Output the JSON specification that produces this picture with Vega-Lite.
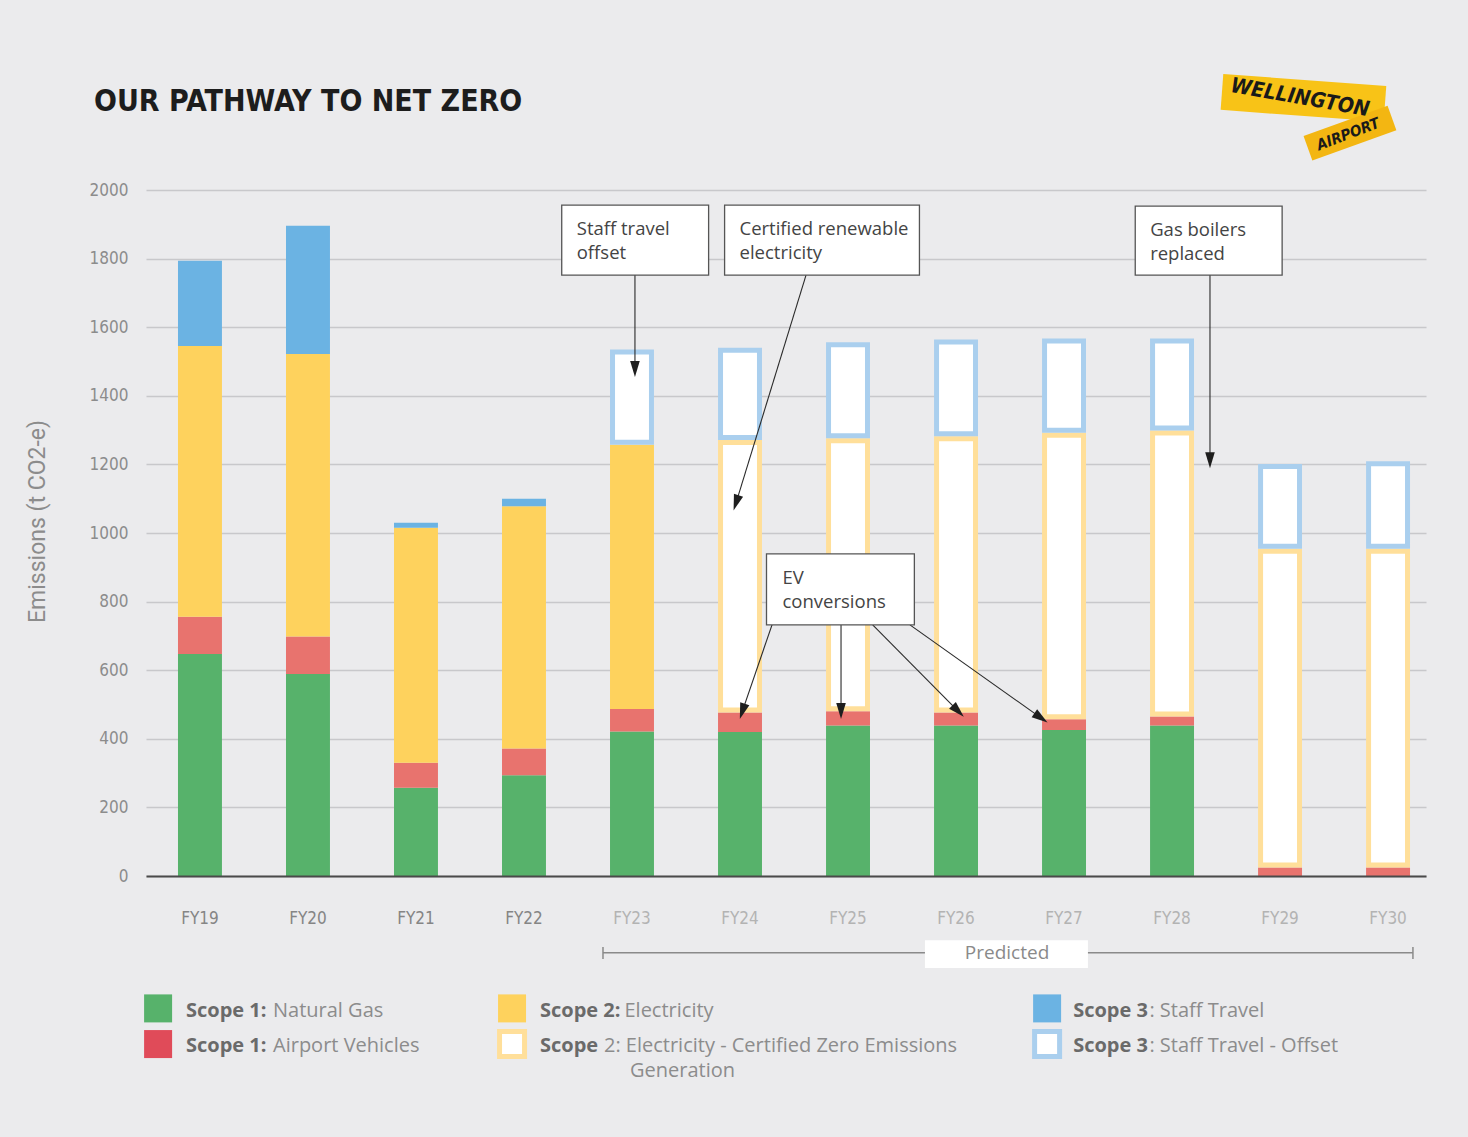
{
  "$schema": "https://vega.github.io/schema/vega-lite/v6.json",
  "width": 1280,
  "height": 686,
  "autosize": {"type": "none"},
  "padding": {"left": 146, "top": 190, "right": 42, "bottom": 261},
  "background": "#ebebed",
  "config": {
    "view": {"stroke": null},
    "font": "Open Sans",
    "axisY": {
      "domain": false, "ticks": false, "labelPadding": 18,
      "labelFont": "'DejaVu Sans Condensed', Roboto, sans-serif", "labelFontSize": 17, "labelColor": "#8c8c8c",
      "gridColor": "#c8c8cb", "gridWidth": 1.5,
      "titleFont": "Roboto", "titleFontSize": 23, "titleFontWeight": "normal", "titleColor": "#8c8c8c",
      "titleAngle": -90, "titleX": -109, "titleY": 331, "titleAlign": "center", "titleBaseline": "middle"
    }
  },
  "title": {
    "text": "OUR PATHWAY TO NET ZERO",
    "anchor": "start",
    "frame": "group",
    "font": "'DejaVu Sans Condensed', Roboto, sans-serif",
    "fontWeight": "bold",
    "fontSize": 30,
    "color": "#1d1d1d",
    "dx": -52,
    "offset": -43
  },
  "datasets": {
    "emissions": [
      {"year": "FY19", "category": "Scope 1: Natural Gas", "value": 647},
      {"year": "FY19", "category": "Scope 1: Airport Vehicles", "value": 109},
      {"year": "FY19", "category": "Scope 2: Electricity", "value": 789},
      {"year": "FY19", "category": "Scope 3: Staff Travel", "value": 249},
      {"year": "FY20", "category": "Scope 1: Natural Gas", "value": 589},
      {"year": "FY20", "category": "Scope 1: Airport Vehicles", "value": 109},
      {"year": "FY20", "category": "Scope 2: Electricity", "value": 824},
      {"year": "FY20", "category": "Scope 3: Staff Travel", "value": 374},
      {"year": "FY21", "category": "Scope 1: Natural Gas", "value": 257},
      {"year": "FY21", "category": "Scope 1: Airport Vehicles", "value": 73},
      {"year": "FY21", "category": "Scope 2: Electricity", "value": 685},
      {"year": "FY21", "category": "Scope 3: Staff Travel", "value": 15},
      {"year": "FY22", "category": "Scope 1: Natural Gas", "value": 294},
      {"year": "FY22", "category": "Scope 1: Airport Vehicles", "value": 78},
      {"year": "FY22", "category": "Scope 2: Electricity", "value": 706},
      {"year": "FY22", "category": "Scope 3: Staff Travel", "value": 22},
      {"year": "FY23", "category": "Scope 1: Natural Gas", "value": 421},
      {"year": "FY23", "category": "Scope 1: Airport Vehicles", "value": 66},
      {"year": "FY23", "category": "Scope 2: Electricity", "value": 770},
      {"year": "FY23", "category": "Scope 3: Staff Travel - Offset", "value": 278},
      {"year": "FY24", "category": "Scope 1: Natural Gas", "value": 420},
      {"year": "FY24", "category": "Scope 1: Airport Vehicles", "value": 57},
      {"year": "FY24", "category": "Scope 2: Electricity - Certified Zero Emissions Generation", "value": 794},
      {"year": "FY24", "category": "Scope 3: Staff Travel - Offset", "value": 269},
      {"year": "FY25", "category": "Scope 1: Natural Gas", "value": 439},
      {"year": "FY25", "category": "Scope 1: Airport Vehicles", "value": 41},
      {"year": "FY25", "category": "Scope 2: Electricity - Certified Zero Emissions Generation", "value": 796},
      {"year": "FY25", "category": "Scope 3: Staff Travel - Offset", "value": 280},
      {"year": "FY26", "category": "Scope 1: Natural Gas", "value": 439},
      {"year": "FY26", "category": "Scope 1: Airport Vehicles", "value": 38},
      {"year": "FY26", "category": "Scope 2: Electricity - Certified Zero Emissions Generation", "value": 805},
      {"year": "FY26", "category": "Scope 3: Staff Travel - Offset", "value": 282},
      {"year": "FY27", "category": "Scope 1: Natural Gas", "value": 426},
      {"year": "FY27", "category": "Scope 1: Airport Vehicles", "value": 31},
      {"year": "FY27", "category": "Scope 2: Electricity - Certified Zero Emissions Generation", "value": 835},
      {"year": "FY27", "category": "Scope 3: Staff Travel - Offset", "value": 275},
      {"year": "FY28", "category": "Scope 1: Natural Gas", "value": 439},
      {"year": "FY28", "category": "Scope 1: Airport Vehicles", "value": 26},
      {"year": "FY28", "category": "Scope 2: Electricity - Certified Zero Emissions Generation", "value": 834},
      {"year": "FY28", "category": "Scope 3: Staff Travel - Offset", "value": 268},
      {"year": "FY29", "category": "Scope 1: Airport Vehicles", "value": 25},
      {"year": "FY29", "category": "Scope 2: Electricity - Certified Zero Emissions Generation", "value": 929},
      {"year": "FY29", "category": "Scope 3: Staff Travel - Offset", "value": 247},
      {"year": "FY30", "category": "Scope 1: Airport Vehicles", "value": 25},
      {"year": "FY30", "category": "Scope 2: Electricity - Certified Zero Emissions Generation", "value": 929},
      {"year": "FY30", "category": "Scope 3: Staff Travel - Offset", "value": 255}
    ],
    "arrows": [
      {"id": "staff", "xs": 4.027, "ys": 1752, "xe": 4.027, "ye": 1478},
      {"id": "cert", "xs": 5.611, "ys": 1752, "xe": 4.963, "ye": 1088},
      {"id": "gas", "xs": 9.351, "ys": 1752, "xe": 9.351, "ye": 1212},
      {"id": "ev1", "xs": 5.296, "ys": 732, "xe": 5.021, "ye": 480},
      {"id": "ev2", "xs": 5.935, "ys": 732, "xe": 5.935, "ye": 481},
      {"id": "ev3", "xs": 6.228, "ys": 732, "xe": 7.019, "ye": 481},
      {"id": "ev4", "xs": 6.573, "ys": 732, "xe": 7.786, "ye": 461}
    ],
    "notes": [
      {"note": "Staff travel\noffset", "bx0": 3.349, "bx1": 4.709, "by0": 1956, "by1": 1752, "tx": 3.488, "ty": 1869},
      {"note": "Certified renewable\nelectricity", "bx0": 4.857, "bx1": 6.661, "by0": 1956, "by1": 1752, "tx": 4.995, "ty": 1869},
      {"note": "Gas boilers\nreplaced", "bx0": 8.659, "bx1": 10.019, "by0": 1953, "by1": 1752, "tx": 8.797, "ty": 1866},
      {"note": "EV\nconversions", "bx0": 5.245, "bx1": 6.614, "by0": 939, "by1": 732, "tx": 5.393, "ty": 851}
    ],
    "predicted": [
      {"label": "Predicted", "from": 3.731, "to": 11.23, "at": -224, "tickTop": -207, "tickBottom": -242, "boxFrom": 6.712, "boxTo": 8.221, "boxTop": -187, "boxBottom": -268, "mid": 7.472}
    ],
    "legendSwatches": [
      {"category": "Scope 1: Natural Gas", "lx": -0.388, "ly": -386},
      {"category": "Scope 1: Airport Vehicles", "lx": -0.388, "ly": -490},
      {"category": "Scope 2: Electricity", "lx": 2.889, "ly": -386},
      {"category": "Scope 2: Electricity - Certified Zero Emissions Generation", "lx": 2.889, "ly": -490},
      {"category": "Scope 3: Staff Travel", "lx": 7.843, "ly": -386},
      {"category": "Scope 3: Staff Travel - Offset", "lx": 7.843, "ly": -490}
    ],
    "legendText": [
      {"part": "heading", "t": "Scope 1:", "lx": -0.13, "ly": -411},
      {"part": "detail", "t": "Natural Gas", "lx": 0.676, "ly": -411},
      {"part": "heading", "t": "Scope 1:", "lx": -0.13, "ly": -513},
      {"part": "detail", "t": "Airport Vehicles", "lx": 0.676, "ly": -513},
      {"part": "heading", "t": "Scope 2:", "lx": 3.148, "ly": -411},
      {"part": "detail", "t": "Electricity", "lx": 3.93, "ly": -411},
      {"part": "heading", "t": "Scope", "lx": 3.148, "ly": -513},
      {"part": "detail", "t": "2: Electricity - Certified Zero Emissions", "lx": 3.74, "ly": -513},
      {"part": "detail", "t": "Generation", "lx": 3.981, "ly": -586},
      {"part": "heading", "t": "Scope 3", "lx": 8.084, "ly": -411},
      {"part": "detail", "t": ": Staff Travel", "lx": 8.79, "ly": -411},
      {"part": "heading", "t": "Scope 3", "lx": 8.084, "ly": -513},
      {"part": "detail", "t": ": Staff Travel - Offset", "lx": 8.79, "ly": -513}
    ],
    "logo": [
      {"word": "WELLINGTON", "xs": 9.462, "ys": 2286, "xe": 10.971, "ye": 2251, "tx": 10.184, "ty": 2268},
      {"word": "AIRPORT", "xs": 10.258, "ys": 2122, "xe": 11.036, "ye": 2210, "tx": 10.629, "ty": 2163}
    ]
  },
  "resolve": {"scale": {"x": "independent"}},
  "layer": [
    {
      "data": {"name": "emissions"},
      "transform": [
        {"calculate": "indexof(['Scope 1: Natural Gas','Scope 1: Airport Vehicles','Scope 2: Electricity','Scope 2: Electricity - Certified Zero Emissions Generation','Scope 3: Staff Travel','Scope 3: Staff Travel - Offset'], datum.category)", "as": "ord"},
        {"stack": "value", "groupby": ["year"], "sort": [{"field": "ord", "order": "ascending"}], "as": ["v0", "v1"]}
      ],
      "layer": [
        {
          "transform": [{"filter": "datum.ord != 3 && datum.ord != 5"}],
          "mark": {"type": "bar"},
          "encoding": {
            "x": {
              "field": "year", "type": "nominal",
              "scale": {"domain": ["FY19","FY20","FY21","FY22","FY23","FY24","FY25","FY26","FY27","FY28","FY29","FY30"], "paddingInner": 0.593, "paddingOuter": 0.222, "align": 0.667},
              "axis": {
                "title": null, "labelAngle": 0, "ticks": false, "domainColor": "#4a4a4a", "domainWidth": 2,
                "labelFont": "'DejaVu Sans Condensed', Roboto, sans-serif", "labelFontSize": 17, "labelPadding": 34,
                "labelColor": {"condition": {"test": "indexof(['FY19','FY20','FY21','FY22'], datum.value) >= 0", "value": "#858585"}, "value": "#b3b3b3"},
                "zindex": 1
              }
            },
            "y": {
              "field": "v1", "type": "quantitative",
              "scale": {"domain": [0, 2000], "nice": false},
              "axis": {"title": "Emissions (t CO2-e)", "values": [0,200,400,600,800,1000,1200,1400,1600,1800,2000], "format": "d"}
            },
            "y2": {"field": "v0"},
            "color": {
              "field": "category", "type": "nominal", "legend": null,
              "scale": {
                "domain": ["Scope 1: Natural Gas","Scope 1: Airport Vehicles","Scope 2: Electricity","Scope 2: Electricity - Certified Zero Emissions Generation","Scope 3: Staff Travel","Scope 3: Staff Travel - Offset"],
                "range": ["#57b26b","#e8736e","#fed25d","#ffdf9a","#6bb3e3","#aacfee"]
              }
            }
          }
        },
        {
          "transform": [{"filter": "datum.ord == 3 || datum.ord == 5"}],
          "mark": {"type": "bar", "fill": "#ffffff", "strokeWidth": 5, "width": {"band": 0.886}, "yOffset": 2.5, "y2Offset": -2.5},
          "encoding": {
            "x": {"field": "year", "type": "nominal"},
            "y": {"field": "v1", "type": "quantitative"},
            "y2": {"field": "v0"},
            "stroke": {
              "field": "category", "type": "nominal", "legend": null,
              "scale": {
                "domain": ["Scope 1: Natural Gas","Scope 1: Airport Vehicles","Scope 2: Electricity","Scope 2: Electricity - Certified Zero Emissions Generation","Scope 3: Staff Travel","Scope 3: Staff Travel - Offset"],
                "range": ["#57b26b","#e8736e","#fed25d","#ffdf9a","#6bb3e3","#aacfee"]
              }
            }
          }
        }
      ]
    },
    {
      "data": {"name": "arrows"},
      "mark": {"type": "rule", "color": "#2a2a2a", "strokeWidth": 1.1},
      "encoding": {
        "x": {"field": "xs", "type": "quantitative", "scale": {"domain": [-0.5, 11.351], "nice": false, "zero": false}, "axis": null},
        "x2": {"field": "xe"},
        "y": {"field": "ys", "type": "quantitative"},
        "y2": {"field": "ye"}
      }
    },
    {
      "data": {"name": "notes"},
      "mark": {"type": "rect", "fill": "#ffffff", "stroke": "#555555", "strokeWidth": 1.3},
      "encoding": {
        "x": {"field": "bx0", "type": "quantitative", "scale": {"domain": [-0.5, 11.351], "nice": false, "zero": false}, "axis": null},
        "x2": {"field": "bx1"},
        "y": {"field": "by0", "type": "quantitative"},
        "y2": {"field": "by1"}
      }
    },
    {
      "data": {"name": "notes"},
      "mark": {"type": "text", "align": "left", "baseline": "alphabetic", "lineBreak": "\n", "lineHeight": 24, "font": "Open Sans", "fontSize": 18.5, "color": "#444444"},
      "encoding": {
        "x": {"field": "tx", "type": "quantitative", "scale": {"domain": [-0.5, 11.351], "nice": false, "zero": false}, "axis": null},
        "y": {"field": "ty", "type": "quantitative"},
        "text": {"field": "note"}
      }
    },
    {
      "data": {"name": "arrows"},
      "transform": [{"filter": {"field": "id", "oneOf": ["staff", "gas", "ev2"]}}],
      "mark": {"type": "point", "shape": "M0,-1L-0.6,1L0.6,1Z", "size": 256, "filled": true, "color": "#1e1e1e", "opacity": 1, "angle": 180},
      "encoding": {
        "x": {"field": "xe", "type": "quantitative", "scale": {"domain": [-0.5, 11.351], "nice": false, "zero": false}, "axis": null},
        "y": {"field": "ye", "type": "quantitative"}
      }
    },
    {
      "data": {"name": "arrows"},
      "transform": [{"filter": {"field": "id", "oneOf": ["cert", "ev1"]}}],
      "mark": {"type": "point", "shape": "M0,-1L-0.6,1L0.6,1Z", "size": 256, "filled": true, "color": "#1e1e1e", "opacity": 1, "angle": 198},
      "encoding": {
        "x": {"field": "xe", "type": "quantitative", "scale": {"domain": [-0.5, 11.351], "nice": false, "zero": false}, "axis": null},
        "y": {"field": "ye", "type": "quantitative"}
      }
    },
    {
      "data": {"name": "arrows"},
      "transform": [{"filter": {"field": "id", "equal": "ev3"}}],
      "mark": {"type": "point", "shape": "M0,-1L-0.6,1L0.6,1Z", "size": 256, "filled": true, "color": "#1e1e1e", "opacity": 1, "angle": 135},
      "encoding": {
        "x": {"field": "xe", "type": "quantitative", "scale": {"domain": [-0.5, 11.351], "nice": false, "zero": false}, "axis": null},
        "y": {"field": "ye", "type": "quantitative"}
      }
    },
    {
      "data": {"name": "arrows"},
      "transform": [{"filter": {"field": "id", "equal": "ev4"}}],
      "mark": {"type": "point", "shape": "M0,-1L-0.6,1L0.6,1Z", "size": 256, "filled": true, "color": "#1e1e1e", "opacity": 1, "angle": 125},
      "encoding": {
        "x": {"field": "xe", "type": "quantitative", "scale": {"domain": [-0.5, 11.351], "nice": false, "zero": false}, "axis": null},
        "y": {"field": "ye", "type": "quantitative"}
      }
    },
    {
      "data": {"name": "predicted"},
      "mark": {"type": "rule", "color": "#8a8a8a", "strokeWidth": 1.5},
      "encoding": {
        "x": {"field": "from", "type": "quantitative", "scale": {"domain": [-0.5, 11.351], "nice": false, "zero": false}, "axis": null},
        "x2": {"field": "to"},
        "y": {"field": "at", "type": "quantitative"}
      }
    },
    {
      "data": {"name": "predicted"},
      "mark": {"type": "rule", "color": "#8a8a8a", "strokeWidth": 1.5},
      "encoding": {
        "x": {"field": "from", "type": "quantitative", "scale": {"domain": [-0.5, 11.351], "nice": false, "zero": false}, "axis": null},
        "y": {"field": "tickTop", "type": "quantitative"},
        "y2": {"field": "tickBottom"}
      }
    },
    {
      "data": {"name": "predicted"},
      "mark": {"type": "rule", "color": "#8a8a8a", "strokeWidth": 1.5},
      "encoding": {
        "x": {"field": "to", "type": "quantitative", "scale": {"domain": [-0.5, 11.351], "nice": false, "zero": false}, "axis": null},
        "y": {"field": "tickTop", "type": "quantitative"},
        "y2": {"field": "tickBottom"}
      }
    },
    {
      "data": {"name": "predicted"},
      "mark": {"type": "rect", "fill": "#ffffff"},
      "encoding": {
        "x": {"field": "boxFrom", "type": "quantitative", "scale": {"domain": [-0.5, 11.351], "nice": false, "zero": false}, "axis": null},
        "x2": {"field": "boxTo"},
        "y": {"field": "boxTop", "type": "quantitative"},
        "y2": {"field": "boxBottom"}
      }
    },
    {
      "data": {"name": "predicted"},
      "mark": {"type": "text", "align": "center", "baseline": "middle", "font": "Open Sans", "fontSize": 19, "color": "#8a8a8a"},
      "encoding": {
        "x": {"field": "mid", "type": "quantitative", "scale": {"domain": [-0.5, 11.351], "nice": false, "zero": false}, "axis": null},
        "y": {"field": "at", "type": "quantitative"},
        "text": {"field": "label"}
      }
    },
    {
      "data": {"name": "legendSwatches"},
      "transform": [{"filter": "indexof(datum.category, 'Offset') < 0 && indexof(datum.category, 'Certified') < 0"}],
      "mark": {"type": "point", "shape": "square", "size": 784, "filled": true, "opacity": 1},
      "encoding": {
        "x": {"field": "lx", "type": "quantitative", "scale": {"domain": [-0.5, 11.351], "nice": false, "zero": false}, "axis": null},
        "y": {"field": "ly", "type": "quantitative"},
        "fill": {
          "field": "category", "type": "nominal", "legend": null,
          "scale": {
            "domain": ["Scope 1: Natural Gas","Scope 1: Airport Vehicles","Scope 2: Electricity","Scope 3: Staff Travel"],
            "range": ["#57b26b","#e04b59","#fed25d","#6bb3e3"]
          }
        }
      }
    },
    {
      "data": {"name": "legendSwatches"},
      "transform": [{"filter": "indexof(datum.category, 'Offset') >= 0 || indexof(datum.category, 'Certified') >= 0"}],
      "mark": {"type": "point", "shape": "square", "size": 625, "fill": "#ffffff", "filled": false, "strokeWidth": 5, "opacity": 1},
      "encoding": {
        "x": {"field": "lx", "type": "quantitative", "scale": {"domain": [-0.5, 11.351], "nice": false, "zero": false}, "axis": null},
        "y": {"field": "ly", "type": "quantitative"},
        "stroke": {"field": "category", "type": "nominal", "legend": null}
      }
    },
    {
      "data": {"name": "legendText"},
      "transform": [{"filter": "datum.part == 'heading'"}],
      "mark": {"type": "text", "align": "left", "baseline": "alphabetic", "font": "Open Sans", "fontWeight": "bold", "fontSize": 20, "color": "#6a6a6a"},
      "encoding": {
        "x": {"field": "lx", "type": "quantitative", "scale": {"domain": [-0.5, 11.351], "nice": false, "zero": false}, "axis": null},
        "y": {"field": "ly", "type": "quantitative"},
        "text": {"field": "t"}
      }
    },
    {
      "data": {"name": "legendText"},
      "transform": [{"filter": "datum.part == 'detail'"}],
      "mark": {"type": "text", "align": "left", "baseline": "alphabetic", "font": "Open Sans", "fontSize": 20, "color": "#8c8c8c"},
      "encoding": {
        "x": {"field": "lx", "type": "quantitative", "scale": {"domain": [-0.5, 11.351], "nice": false, "zero": false}, "axis": null},
        "y": {"field": "ly", "type": "quantitative"},
        "text": {"field": "t"}
      }
    },
    {
      "data": {"name": "logo"},
      "transform": [{"filter": "datum.word == 'WELLINGTON'"}],
      "mark": {"type": "rule", "color": "#f8c317", "strokeWidth": 36, "strokeCap": "butt"},
      "encoding": {
        "x": {"field": "xs", "type": "quantitative", "scale": {"domain": [-0.5, 11.351], "nice": false, "zero": false}, "axis": null},
        "x2": {"field": "xe"},
        "y": {"field": "ys", "type": "quantitative"},
        "y2": {"field": "ye"}
      }
    },
    {
      "data": {"name": "logo"},
      "transform": [{"filter": "datum.word == 'AIRPORT'"}],
      "mark": {"type": "rule", "color": "#f3b612", "strokeWidth": 26, "strokeCap": "butt"},
      "encoding": {
        "x": {"field": "xs", "type": "quantitative", "scale": {"domain": [-0.5, 11.351], "nice": false, "zero": false}, "axis": null},
        "x2": {"field": "xe"},
        "y": {"field": "ys", "type": "quantitative"},
        "y2": {"field": "ye"}
      }
    },
    {
      "data": {"name": "logo"},
      "transform": [{"filter": "datum.word == 'WELLINGTON'"}],
      "mark": {"type": "text", "align": "center", "baseline": "middle", "font": "'DejaVu Sans Condensed', Roboto, sans-serif", "fontWeight": "bold", "fontStyle": "italic", "fontSize": 21, "color": "#1a1a1a", "angle": 10},
      "encoding": {
        "x": {"field": "tx", "type": "quantitative", "scale": {"domain": [-0.5, 11.351], "nice": false, "zero": false}, "axis": null},
        "y": {"field": "ty", "type": "quantitative"},
        "text": {"field": "word"}
      }
    },
    {
      "data": {"name": "logo"},
      "transform": [{"filter": "datum.word == 'AIRPORT'"}],
      "mark": {"type": "text", "align": "center", "baseline": "middle", "font": "'DejaVu Sans Condensed', Roboto, sans-serif", "fontWeight": "bold", "fontStyle": "italic", "fontSize": 15, "color": "#1a1a1a", "angle": -21},
      "encoding": {
        "x": {"field": "tx", "type": "quantitative", "scale": {"domain": [-0.5, 11.351], "nice": false, "zero": false}, "axis": null},
        "y": {"field": "ty", "type": "quantitative"},
        "text": {"field": "word"}
      }
    }
  ]
}
